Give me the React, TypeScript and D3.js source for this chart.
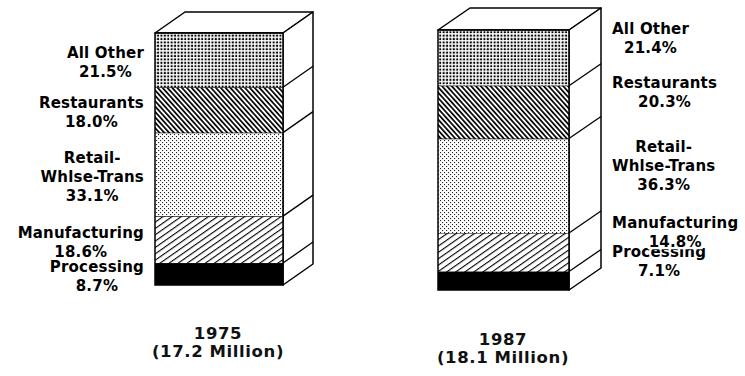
import React, { useEffect, useRef } from "react";
import * as d3 from "d3";

// ---- data ----
const categories = ["Processing", "Manufacturing", "Retail-Whlse-Trans", "Restaurants", "All Other"];
const labelLines: string[][] = [["Processing"], ["Manufacturing"], ["Retail-", "Whlse-Trans"], ["Restaurants"], ["All Other"]];
const years = ["1975", "1987"];
const totalLabels = ["(17.2 Million)", "(18.1 Million)"];
const shares1975 = [8.7, 18.6, 33.1, 18.0, 21.5];
const shares1987 = [7.1, 14.8, 36.3, 20.3, 21.4];
const patternIds = ["solid", "hatchUp", "stipple", "hatchDown", "dots"];

const W = 745;
const H = 376;

const layout = [
  { x0: 155, x1: 283, top: 33, bottom: 285, dx: 30, dy: -21, side: "left", titleY: 339, titleX: 218 },
  { x0: 438, x1: 569, top: 30, bottom: 290, dx: 32, dy: -22, side: "right", titleY: 345, titleX: 503 },
];

export default function App() {
  const ref = useRef<SVGSVGElement | null>(null);

  useEffect(() => {
    const svg = d3.select(ref.current);
    svg.selectAll("*").remove();
    const defs = svg.append("defs");

    // patterns
    const pDots = defs.append("pattern").attr("id", "dots").attr("patternUnits", "userSpaceOnUse")
      .attr("width", 3.4).attr("height", 3.4);
    pDots.append("rect").attr("width", 3.4).attr("height", 3.4).attr("fill", "#fff");
    pDots.append("rect").attr("x", 0.6).attr("y", 0.6).attr("width", 2).attr("height", 2).attr("fill", "#000");

    const pStip = defs.append("pattern").attr("id", "stipple").attr("patternUnits", "userSpaceOnUse")
      .attr("width", 4).attr("height", 4);
    pStip.append("rect").attr("width", 4).attr("height", 4).attr("fill", "#fff");
    pStip.append("rect").attr("x", 0).attr("y", 0).attr("width", 1.1).attr("height", 1.1).attr("fill", "#222");
    pStip.append("rect").attr("x", 2).attr("y", 2).attr("width", 1.1).attr("height", 1.1).attr("fill", "#222");

    const pDown = defs.append("pattern").attr("id", "hatchDown").attr("patternUnits", "userSpaceOnUse")
      .attr("width", 3.6).attr("height", 10).attr("patternTransform", "rotate(-42)");
    pDown.append("rect").attr("width", 3.6).attr("height", 10).attr("fill", "#fff");
    pDown.append("rect").attr("width", 1.7).attr("height", 10).attr("fill", "#000");

    const pUp = defs.append("pattern").attr("id", "hatchUp").attr("patternUnits", "userSpaceOnUse")
      .attr("width", 5.2).attr("height", 10).attr("patternTransform", "rotate(55)");
    pUp.append("rect").attr("width", 5.2).attr("height", 10).attr("fill", "#fff");
    pUp.append("rect").attr("width", 1.1).attr("height", 10).attr("fill", "#000");

    const fillFor = (id: string) => (id === "solid" ? "#000" : `url(#${id})`);

    const allShares = [shares1975, shares1987];

    allShares.forEach((shares, bi) => {
      const L = layout[bi];
      const total = d3.sum(shares);
      const y = d3.scaleLinear().domain([0, total]).range([L.bottom, L.top]);
      const cum = d3.cumsum(shares);
      const starts = shares.map((s, i) => cum[i] - s);
      const g = svg.append("g");

      // top face
      g.append("path")
        .attr("d", `M${L.x0},${L.top}L${L.x0 + L.dx},${L.top + L.dy}L${L.x1 + L.dx},${L.top + L.dy}L${L.x1},${L.top}Z`)
        .attr("fill", "#fff").attr("stroke", "#000").attr("stroke-width", 1.5).attr("stroke-linejoin", "round");
      // side face
      g.append("path")
        .attr("d", `M${L.x1},${L.top}L${L.x1 + L.dx},${L.top + L.dy}L${L.x1 + L.dx},${L.bottom + L.dy}L${L.x1},${L.bottom}Z`)
        .attr("fill", "#fff").attr("stroke", "#000").attr("stroke-width", 1.5).attr("stroke-linejoin", "round");

      // front segments
      shares.forEach((s, i) => {
        const yTop = y(starts[i] + s);
        const yBot = y(starts[i]);
        g.append("rect")
          .attr("x", L.x0).attr("y", yTop).attr("width", L.x1 - L.x0).attr("height", yBot - yTop)
          .attr("fill", fillFor(patternIds[i]));
        g.append("line")
          .attr("x1", L.x0).attr("x2", L.x1).attr("y1", yTop).attr("y2", yTop)
          .attr("stroke", "#000").attr("stroke-width", 1.2);
        if (i < shares.length - 1) {
          g.append("line")
            .attr("x1", L.x1).attr("y1", yTop).attr("x2", L.x1 + L.dx).attr("y2", yTop + L.dy)
            .attr("stroke", "#000").attr("stroke-width", 1.3);
        }
      });
      g.append("rect")
        .attr("x", L.x0).attr("y", L.top).attr("width", L.x1 - L.x0).attr("height", L.bottom - L.top)
        .attr("fill", "none").attr("stroke", "#000").attr("stroke-width", 1.5);

      // labels
      const lh = 19;
      shares.forEach((s, i) => {
        const lines = [...labelLines[i], `${s.toFixed(1)}%`];
        const cy = (y(starts[i]) + y(starts[i] + s)) / 2 + (L.side === "right" ? L.dy : 0);
        const firstBase = cy - ((lines.length - 1) * lh) / 2 + 7.5;
        const lg = svg.append("g");
        const bg = lg.append("g");
        const texts = lines.map((t, k) =>
          lg.append("text")
            .attr("y", firstBase + k * lh)
            .attr("text-anchor", "middle")
            .attr("font-family", "'DejaVu Sans', sans-serif")
            .attr("font-weight", "bold")
            .attr("font-size", 15)
            .attr("letter-spacing", 0.2)
            .attr("fill", "#000")
            .text(t)
        );
        const widths = texts.map((t) => (t.node() as SVGTextElement).getComputedTextLength());
        const maxW = d3.max(widths) || 0;
        const cx = L.side === "left" ? L.x0 - 11 - maxW / 2 : L.x1 + L.dx + 11 + maxW / 2;
        texts.forEach((t, k) => {
          t.attr("x", cx);
          bg.append("rect")
            .attr("x", cx - widths[k] / 2 - 1).attr("y", firstBase + k * lh - 12.5)
            .attr("width", widths[k] + 2).attr("height", 14.5).attr("fill", "#fff");
        });
      });

      // titles
      [years[bi], totalLabels[bi]].forEach((t, k) => {
        svg.append("text")
          .attr("x", L.titleX).attr("y", L.titleY + k * 18)
          .attr("text-anchor", "middle")
          .attr("font-family", "'DejaVu Sans', sans-serif")
          .attr("font-weight", "bold")
          .attr("font-size", 16.5)
          .attr("letter-spacing", 0.6)
          .attr("fill", "#111")
          .text(t);
      });
    });
  }, []);

  return (
    <svg
      ref={ref}
      width={W}
      height={H}
      viewBox={`0 0 ${W} ${H}`}
      style={{ position: "absolute", left: 0, top: 0, background: "#fff" }}
      aria-label={categories.join(", ")}
    />
  );
}
